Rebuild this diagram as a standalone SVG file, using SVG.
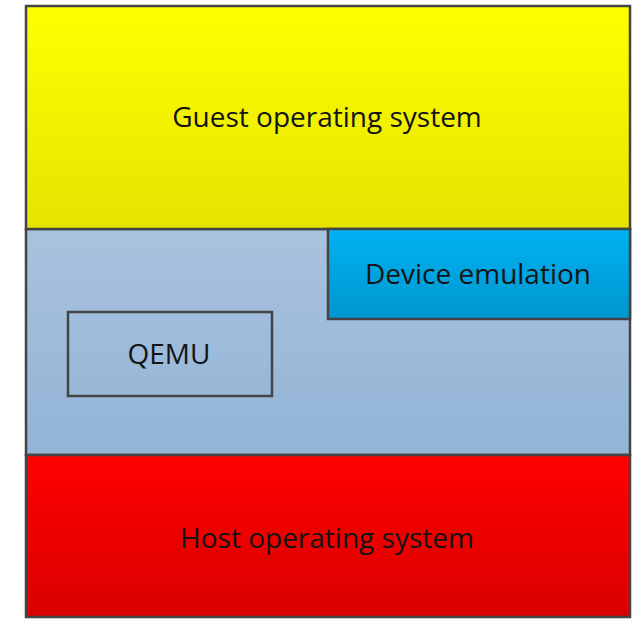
<svg xmlns="http://www.w3.org/2000/svg" width="639" height="619" viewBox="0 0 639 619">
  <defs>
    <linearGradient id="gYellow" x1="0" y1="0" x2="0" y2="1">
      <stop offset="0" stop-color="#ffff00"/>
      <stop offset="1" stop-color="#e4e400"/>
    </linearGradient>
    <linearGradient id="gSteel" x1="0" y1="0" x2="0" y2="1">
      <stop offset="0" stop-color="#a9c2de"/>
      <stop offset="1" stop-color="#92b4d6"/>
    </linearGradient>
    <linearGradient id="gCyan" x1="0" y1="0" x2="0" y2="1">
      <stop offset="0" stop-color="#00b2f2"/>
      <stop offset="1" stop-color="#0096ce"/>
    </linearGradient>
    <linearGradient id="gRed" x1="0" y1="0" x2="0" y2="1">
      <stop offset="0" stop-color="#ff0000"/>
      <stop offset="1" stop-color="#da0000"/>
    </linearGradient>
  </defs>
  <style>
    .box { stroke: #444444; stroke-width: 2.5; }
    .label { font-family: "Open Sans", "Noto Sans", sans-serif; font-size: 28px; fill: #141414; text-anchor: middle; dominant-baseline: central; }
  </style>
  <rect width="639" height="619" fill="#ffffff"/>

  <g id="middle-layer">
    <rect class="box" x="26" y="229" width="604" height="226" fill="url(#gSteel)"/>
  </g>

  <g id="guest-os">
    <rect class="box" x="26" y="6" width="604" height="223" fill="url(#gYellow)"/>
    <text class="label" x="327" y="116">Guest operating system</text>
  </g>

  <g id="device-emulation">
    <rect class="box" x="328" y="229" width="302" height="90" fill="url(#gCyan)"/>
    <text class="label" x="478" y="273">Device emulation</text>
  </g>

  <g id="qemu">
    <rect class="box" x="68" y="312" width="204" height="84" fill="none"/>
    <text class="label" x="169" y="353">QEMU</text>
  </g>

  <g id="host-os">
    <rect class="box" x="26" y="455" width="604" height="162" fill="url(#gRed)"/>
    <text class="label" x="327" y="537">Host operating system</text>
  </g>

  <g id="connectors"/>
</svg>
